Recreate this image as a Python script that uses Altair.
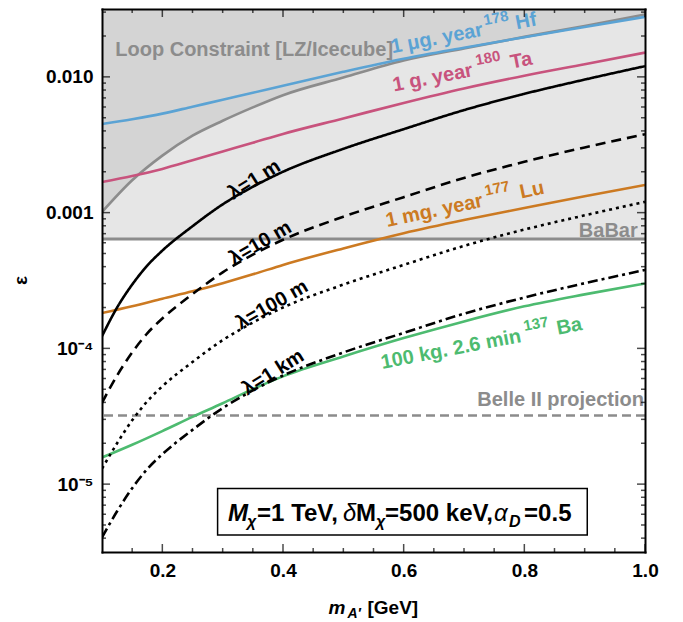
import altair as alt
import pandas as pd

# ---------------- data ----------------
mass_grid = [0.1, 0.125, 0.15, 0.175, 0.2, 0.25, 0.3, 0.35, 0.4, 0.5, 0.6, 0.7, 0.8, 0.9, 1.0]
lam_1m = [1.23e-4, 2.00e-4, 2.95e-4, 4.07e-4, 5.25e-4, 7.94e-4, 1.15e-3, 1.55e-3, 2.00e-3,
          2.95e-3, 4.12e-3, 5.69e-3, 7.50e-3, 9.55e-3, 1.20e-2]
lam_10m = [3.97e-5, 6.31e-5, 9.33e-5, 1.29e-4, 1.66e-4, 2.51e-4, 3.63e-4, 4.90e-4, 6.31e-4,
           9.33e-4, 1.30e-3, 1.80e-3, 2.37e-3, 3.02e-3, 3.78e-3]
lam_100m = [1.30e-5, 2.00e-5, 2.95e-5, 4.07e-5, 5.25e-5, 7.94e-5, 1.15e-4, 1.55e-4, 2.00e-4,
            2.95e-4, 4.12e-4, 5.69e-4, 7.50e-4, 9.55e-4, 1.20e-3]
lam_1km = [4.05e-6, 6.31e-6, 9.33e-6, 1.29e-5, 1.66e-5, 2.51e-5, 3.63e-5, 4.90e-5, 6.31e-5,
           9.33e-5, 1.30e-4, 1.80e-4, 2.37e-4, 3.02e-4, 3.78e-4]

iso_mass = [0.1, 0.15, 0.2, 0.25, 0.3, 0.35, 0.4, 0.5, 0.6, 0.7, 0.8, 0.9, 1.0]
hf178 = [4.50e-3, 4.88e-3, 5.36e-3, 6.03e-3, 6.78e-3, 7.64e-3, 8.59e-3, 1.09e-2, 1.36e-2,
         1.64e-2, 1.96e-2, 2.33e-2, 2.77e-2]
ta180 = [1.68e-3, 1.86e-3, 2.10e-3, 2.43e-3, 2.82e-3, 3.27e-3, 3.80e-3, 4.94e-3, 6.43e-3,
         8.22e-3, 1.02e-2, 1.24e-2, 1.51e-2]
lu177 = [1.82e-4, 2.04e-4, 2.32e-4, 2.63e-4, 3.02e-4, 3.51e-4, 4.12e-4, 5.45e-4, 7.05e-4,
         8.81e-4, 1.08e-3, 1.32e-3, 1.60e-3]
ba137 = [1.57e-5, 1.95e-5, 2.46e-5, 3.13e-5, 3.94e-5, 5.01e-5, 6.22e-5, 8.71e-5, 1.19e-4,
         1.58e-4, 2.04e-4, 2.50e-4, 3.01e-4]
loop_constraint = [1.01e-3, 1.73e-3, 2.63e-3, 3.69e-3, 4.75e-3, 5.96e-3, 7.33e-3, 9.89e-3,
                   1.32e-2, 1.62e-2, 1.97e-2, 2.37e-2, 2.88e-2]
babar_limit = 6.4e-4
belle2_projection = 3.2e-5

x_major = [0.2, 0.4, 0.6, 0.8, 1.0]
x_minor = [0.15, 0.25, 0.3, 0.35, 0.45, 0.5, 0.55, 0.65, 0.7, 0.75, 0.85, 0.9, 0.95]
y_major = [1e-5, 1e-4, 1e-3, 1e-2]
y_minor = [4e-6, 5e-6, 6e-6, 7e-6, 8e-6, 9e-6,
           2e-5, 3e-5, 4e-5, 5e-5, 6e-5, 7e-5, 8e-5, 9e-5,
           2e-4, 3e-4, 4e-4, 5e-4, 6e-4, 7e-4, 8e-4, 9e-4,
           2e-3, 3e-3, 4e-3, 5e-3, 6e-3, 7e-3, 8e-3, 9e-3,
           2e-2, 3e-2]

# ---------------- styling ----------------
FONT = "Liberation Sans"
W, H = 543, 543
X_DOMAIN = [0.1, 1.0]
LOG_Y = [-5.5, -1.5]
Y_DOMAIN = [10 ** LOG_Y[0], 10 ** LOG_Y[1]]
XS = alt.Scale(domain=X_DOMAIN, nice=False, zero=False)
YS = alt.Scale(type="log", domain=Y_DOMAIN, nice=False)

C_HF = "#5ba3d4"
C_TA = "#c8537d"
C_LU = "#cc7a22"
C_BA = "#4dbb70"
C_GRAY = "#8c8c8c"
C_DARK = "#d4d4d4"
C_LIGHT = "#e6e6e6"


def X(field="x", axis=None):
    if axis is None:
        return alt.X(f"{field}:Q", scale=XS, axis=None)
    return alt.X(f"{field}:Q", scale=XS, axis=axis)


def Y(field="y", axis=None):
    if axis is None:
        return alt.Y(f"{field}:Q", scale=YS, axis=None)
    return alt.Y(f"{field}:Q", scale=YS, axis=axis)


# ---------------- shaded regions ----------------
region_df = pd.DataFrame({"x": [X_DOMAIN[0]], "x2": [X_DOMAIN[1]],
                          "y": [babar_limit], "y2": [Y_DOMAIN[1]]})
light = alt.Chart(region_df).mark_rect(color=C_LIGHT, clip=True).encode(
    x=X("x"), x2="x2:Q", y=Y("y"), y2="y2:Q")

loop_df = pd.DataFrame({"x": iso_mass, "y": loop_constraint,
                        "top": [Y_DOMAIN[1]] * len(iso_mass)})
dark = alt.Chart(loop_df).mark_area(color=C_DARK, interpolate="monotone", clip=True).encode(
    x=X("x"), y=Y("y"), y2="top:Q")
loop_line = alt.Chart(loop_df).mark_line(color=C_GRAY, strokeWidth=2.6,
                                         interpolate="monotone", clip=True).encode(
    x=X("x"), y=Y("y"))

babar = alt.Chart(pd.DataFrame({"y": [babar_limit]})).mark_rule(
    color=C_GRAY, strokeWidth=3).encode(y=Y("y"))
belle = alt.Chart(pd.DataFrame({"y": [belle2_projection]})).mark_rule(
    color=C_GRAY, strokeWidth=2.6, strokeDash=[9, 5]).encode(y=Y("y"))

# ---------------- curves ----------------
iso_names = ["Hf", "Ta", "Lu", "Ba"]
iso_vals = [hf178, ta180, lu177, ba137]
iso_df = pd.DataFrame({
    "x": iso_mass * 4,
    "y": sum(iso_vals, []),
    "s": sum([[n] * len(iso_mass) for n in iso_names], []),
})
iso_lines = alt.Chart(iso_df).mark_line(strokeWidth=2.6, interpolate="monotone", clip=True).encode(
    x=X("x"), y=Y("y"),
    color=alt.Color("s:N", scale=alt.Scale(domain=iso_names, range=[C_HF, C_TA, C_LU, C_BA]),
                    legend=None))

lam_names = ["1 m", "10 m", "100 m", "1 km"]
lam_vals = [lam_1m, lam_10m, lam_100m, lam_1km]
lam_df = pd.DataFrame({
    "x": mass_grid * 4,
    "y": sum(lam_vals, []),
    "s": sum([[n] * len(mass_grid) for n in lam_names], []),
})
lam_lines = alt.Chart(lam_df).mark_line(color="black", strokeWidth=2.6,
                                        interpolate="monotone", clip=True).encode(
    x=X("x"), y=Y("y"),
    strokeDash=alt.StrokeDash("s:N", scale=alt.Scale(
        domain=lam_names, range=[[1, 0], [10, 6], [3, 4], [10, 4, 3, 4]]), legend=None))

# ---------------- annotations ----------------
def text_at(x, y, text, size=20, color="black", align="left", baseline="alphabetic",
            angle=0, dx=0, dy=0, weight="bold", style="normal"):
    return alt.Chart(pd.DataFrame({"x": [x], "y": [y]})).mark_text(
        text=text, font=FONT, fontSize=size, fontWeight=weight, fontStyle=style,
        color=color, align=align, baseline=baseline, angle=angle, dx=dx, dy=dy).encode(
        x=X("x"), y=Y("y"))


def rotated_label(x, y, ccw_deg, color, pieces):
    ang = (360 - ccw_deg) % 360
    return [text_at(x, y, t, size=sz, color=color, angle=ang, dx=s, dy=-h)
            for t, s, h, sz in pieces]


texts = []
texts.append(text_at(0.122, 1.425e-2, "Loop Constraint [LZ/Icecube]", color=C_GRAY))
texts.append(text_at(0.988, 6.62e-4, "BaBar", color=C_GRAY, align="right"))
texts.append(text_at(1.0, 3.75e-5, "Belle II projection", color=C_GRAY, align="right", dx=-1))

texts += rotated_label(0.581, 1.49e-2, 11, C_HF,
                       [("1 μg. year", 0, 0, 20), ("178", 96, 10, 15), ("Hf", 127, 0, 20)])
texts += rotated_label(0.584, 7.80e-3, 11, C_TA,
                       [("1 g. year", 0, 0, 20), ("180", 86, 10, 15), ("Ta", 120, 0, 20)])
texts += rotated_label(0.5727, 7.83e-4, 12, C_LU,
                       [("1 mg. year", 0, 0, 20), ("177", 103, 10, 15), ("Lu", 137, 0, 20)])
texts += rotated_label(0.5644, 7.05e-5, 11, C_BA,
                       [("100 kg. 2.6 min", 0, 0, 20), ("137", 147, 10, 15), ("Ba", 179, 0, 20)])

lam_label_pos = [(0.3526, 1.746e-3, "λ=1 m", 328), (0.3625, 5.98e-4, "λ=10 m", 330),
                 (0.3819, 2.09e-4, "λ=100 m", 330), (0.3836, 6.65e-5, "λ=1 km", 328)]
for lx, ly, lt, la in lam_label_pos:
    texts.append(text_at(lx, ly, lt, align="center", baseline="middle", angle=la))

box_df = pd.DataFrame({"x": [0.2916], "x2": [0.9043], "y": [4.22e-6], "y2": [9.29e-6]})
box = alt.Chart(box_df).mark_rect(fill="white", stroke="black", strokeWidth=1.5).encode(
    x=X("x"), x2="x2:Q", y=Y("y"), y2="y2:Q")

bx, by = 0.309, 5.35e-6
box_pieces = [("M", 0, 0, 24, "bold", "italic"), ("χ", 19, 6, 16, "bold", "italic"),
              ("=1 TeV,", 29, 0, 24, "bold", "normal"), ("δ", 115, 0, 24, "normal", "italic"),
              ("M", 128, 0, 24, "bold", "normal"), ("χ", 148, 6, 16, "bold", "italic"),
              ("=500 keV,", 157, 0, 24, "bold", "normal"), ("α", 266, 0, 24, "normal", "italic"),
              ("D", 281, 6, 16, "bold", "italic"), ("=0.5", 296, 0, 24, "bold", "normal")]
box_texts = [text_at(bx, by, t, size=sz, dx=dxx, dy=dyy, weight=w, style=st)
             for t, dxx, dyy, sz, w, st in box_pieces]

# ---------------- ticks inside the frame: tick marks centred half a length inside each edge ----
TICK = dict(color="black", thickness=1.5)
PX_PER_DECADE = H / (LOG_Y[1] - LOG_Y[0])
PX_PER_GEV = W / (X_DOMAIN[1] - X_DOMAIN[0])


def xticks(vals, length):
    half = length / 2.0
    lo = 10 ** (LOG_Y[0] + half / PX_PER_DECADE)
    hi = 10 ** (LOG_Y[1] - half / PX_PER_DECADE)
    d = pd.DataFrame({"v": vals, "lo": [lo] * len(vals), "hi": [hi] * len(vals)})
    bottom = alt.Chart(d).mark_tick(size=length, orient="vertical", **TICK).encode(
        x=X("v"), y=Y("lo"))
    top = alt.Chart(d).mark_tick(size=length, orient="vertical", **TICK).encode(
        x=X("v"), y=Y("hi"))
    return [bottom, top]


def yticks(vals, length):
    half = length / 2.0
    lo = X_DOMAIN[0] + half / PX_PER_GEV
    hi = X_DOMAIN[1] - half / PX_PER_GEV
    d = pd.DataFrame({"v": vals, "lo": [lo] * len(vals), "hi": [hi] * len(vals)})
    left = alt.Chart(d).mark_tick(size=length, orient="horizontal", **TICK).encode(
        y=Y("v"), x=X("lo"))
    right = alt.Chart(d).mark_tick(size=length, orient="horizontal", **TICK).encode(
        y=Y("v"), x=X("hi"))
    return [left, right]


ticks = xticks(x_major, 8) + xticks(x_minor, 4) + yticks(y_major, 8) + yticks(y_minor, 4)

# ---------------- axes (frame, labels, titles) ----------------
axis_df = pd.DataFrame({"x": [0.2, 0.8], "y": [1e-4, 1e-3]})


def axis_layer(xaxis, yaxis):
    return alt.Chart(axis_df).mark_point(opacity=0).encode(
        x=X("x", xaxis), y=Y("y", yaxis))


common = dict(grid=False, zindex=1, labelFont=FONT, titleFont=FONT, domainColor="black",
              ticks=False, tickSize=0)

label_expr = ("datum.value > 0.005 ? '0.010' : datum.value > 0.0005 ? '0.001' : "
              "datum.value > 0.00005 ? '10⁻⁴' : '10⁻⁵'")

x_lab = alt.Axis(orient="bottom", offset=0, values=x_major, format=".1f",
                 domain=True, domainWidth=2, domainCap="square",
                 labelFontSize=19, labelFontWeight="bold", labelColor="black",
                 labelPadding=9, labelFlush=False, labelOverlap=False,
                 title="m", titleFontSize=19, titleFontWeight="bold", titleFontStyle="italic",
                 titleColor="black", titleX=226, titleY=61, titleAlign="left",
                 titleBaseline="alphabetic", titleAngle=0, **common)
y_lab = alt.Axis(orient="left", offset=0, values=y_major, labelExpr=label_expr,
                 domain=True, domainWidth=2, domainCap="square",
                 labelFontSize=19, labelFontWeight="bold", labelColor="black",
                 labelPadding=9, labelFlush=False, labelOverlap=False,
                 title="ε", titleFontSize=19, titleFontWeight="bold", titleColor="black",
                 titleX=-82, titleY=271, titleAngle=270, titleAlign="center",
                 titleBaseline="middle", **common)

x_sub = alt.Axis(orient="bottom", offset=0, values=x_major, labels=False, domain=False,
                 title="A′", titleFontSize=14, titleFontWeight="bold",
                 titleFontStyle="italic", titleColor="black", titleX=245, titleY=65,
                 titleAlign="left", titleBaseline="alphabetic", titleAngle=0, **common)
x_unit = alt.Axis(orient="bottom", offset=0, values=x_major, labels=False, domain=False,
                  title="[GeV]", titleFontSize=19, titleFontWeight="bold",
                  titleColor="black", titleX=265, titleY=61, titleAlign="left",
                  titleBaseline="alphabetic", titleAngle=0, **common)
y_blank1 = alt.Axis(orient="left", offset=0, values=y_major, labels=False, domain=False,
                    title="", **common)
y_blank2 = alt.Axis(orient="left", offset=0, values=y_major, labels=False, domain=False,
                    title="", **common)

x_dom_t = alt.Axis(orient="top", offset=0, labels=False, domain=True,
                   domainWidth=2, domainCap="square", title="", **common)
y_dom_r = alt.Axis(orient="right", offset=0, labels=False, domain=True,
                   domainWidth=2, domainCap="square", title="", **common)

axes = [axis_layer(x_lab, y_lab), axis_layer(x_sub, y_blank1), axis_layer(x_unit, y_blank2),
        axis_layer(x_dom_t, y_dom_r)]

layers = ([light, dark, loop_line, babar, belle, iso_lines, lam_lines] + texts
          + [box] + box_texts + ticks + axes)

chart = alt.layer(*layers).resolve_axis(x="independent", y="independent").properties(
    width=W, height=H,
    autosize=alt.AutoSizeParams(type="none"),
    padding={"left": 94, "top": 1, "right": 20, "bottom": 70},
    background="white",
).configure_view(strokeOpacity=0)

chart.save("out.html", embed_options={"renderer": "svg", "actions": False})
